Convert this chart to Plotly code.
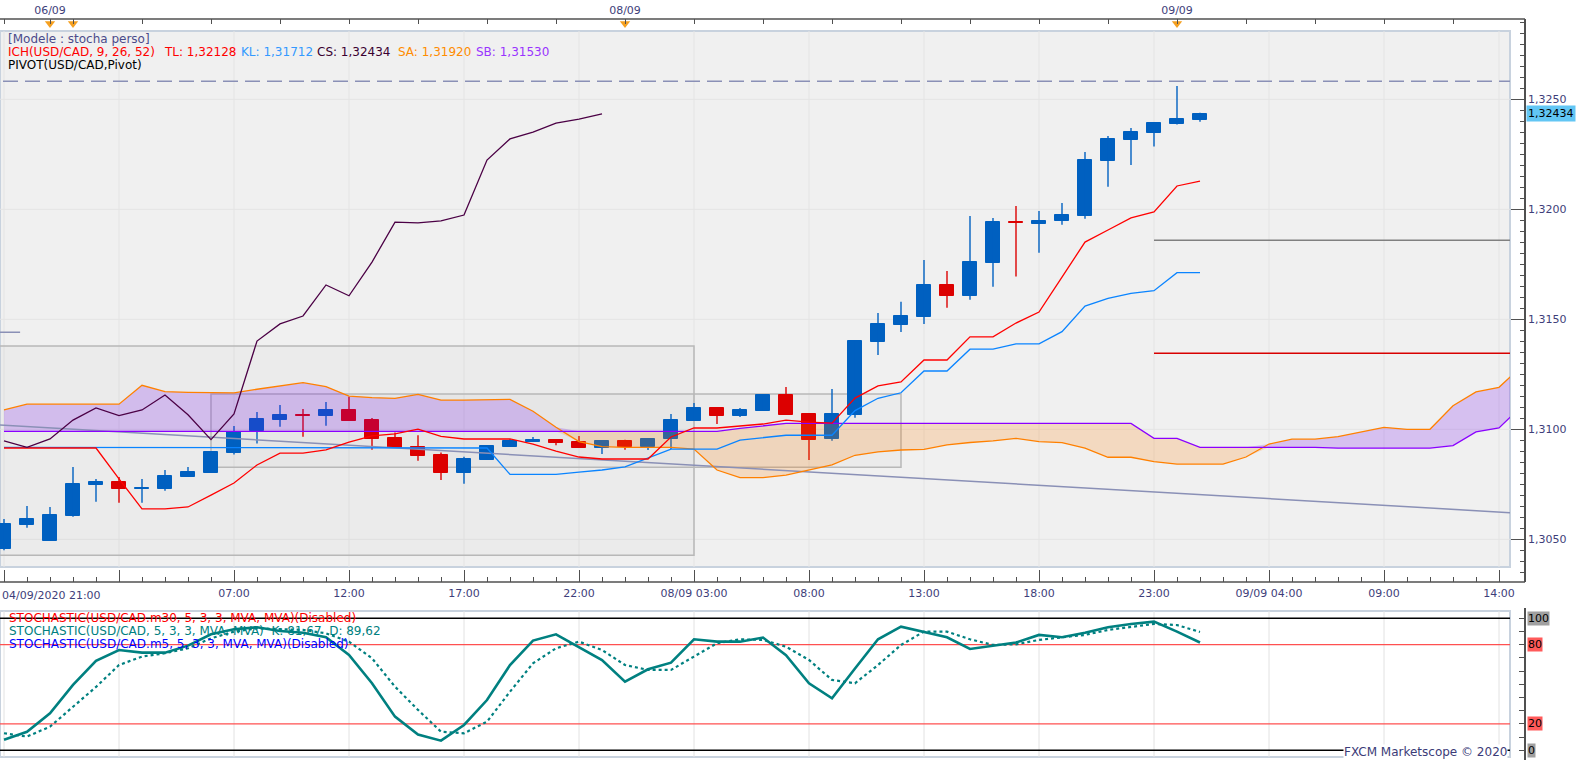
import plotly.graph_objects as go

# ---------------- data ----------------
candle_idx = list(range(53))
opens = [1.30457, 1.30566, 1.30494, 1.30606, 1.30748, 1.30760, 1.30730, 1.30730, 1.30785, 1.30803,
         1.30894, 1.30991, 1.31044, 1.31065, 1.31062, 1.31088, 1.31042, 1.30960, 1.30920, 1.30883,
         1.30803, 1.30862, 1.30921, 1.30942, 1.30951, 1.30942, 1.30916, 1.30947, 1.30918, 1.30955,
         1.31039, 1.31097, 1.31060, 1.31085, 1.31156, 1.31070, 1.30954, 1.31066, 1.31398, 1.31475,
         1.31512, 1.31656, 1.31607, 1.31757, 1.31941, 1.31935, 1.31947, 1.31971, 1.32221, 1.32316,
         1.32348, 1.32389, 1.32407]
highs = [1.30592, 1.30651, 1.30647, 1.30829, 1.30774, 1.30783, 1.30774, 1.30815, 1.30829, 1.30897,
         1.31015, 1.31079, 1.31110, 1.31092, 1.31124, 1.31148, 1.31051, 1.30985, 1.30973, 1.30895,
         1.30875, 1.30924, 1.30956, 1.30965, 1.30951, 1.30970, 1.30947, 1.30953, 1.30956, 1.31070,
         1.31120, 1.31097, 1.31097, 1.31156, 1.31192, 1.31070, 1.31183, 1.31406, 1.31529, 1.31580,
         1.31770, 1.31720, 1.31970, 1.31960, 1.32015, 1.31992, 1.32029, 1.32260, 1.32333, 1.32370,
         1.32392, 1.32560, 1.32439]
lows = [1.30450, 1.30553, 1.30494, 1.30603, 1.30671, 1.30666, 1.30666, 1.30721, 1.30785, 1.30803,
        1.30885, 1.30935, 1.31012, 1.30966, 1.31016, 1.31039, 1.30907, 1.30917, 1.30857, 1.30770,
        1.30753, 1.30862, 1.30921, 1.30942, 1.30927, 1.30916, 1.30888, 1.30907, 1.30906, 1.30910,
        1.31039, 1.31024, 1.31056, 1.31085, 1.31066, 1.30860, 1.30948, 1.31053, 1.31338, 1.31442,
        1.31479, 1.31553, 1.31589, 1.31648, 1.31694, 1.31803, 1.31930, 1.31957, 1.32103, 1.32201,
        1.32285, 1.32385, 1.32398]
closes = [1.30570, 1.30592, 1.30610, 1.30751, 1.30760, 1.30730, 1.30733, 1.30788, 1.30806, 1.30897,
          1.30989, 1.31047, 1.31065, 1.31062, 1.31088, 1.31039, 1.30957, 1.30917, 1.30880, 1.30803,
          1.30865, 1.30924, 1.30947, 1.30953, 1.30938, 1.30916, 1.30947, 1.30918, 1.30956, 1.31042,
          1.31097, 1.31062, 1.31088, 1.31156, 1.31066, 1.30953, 1.31070, 1.31401, 1.31479, 1.31515,
          1.31656, 1.31607, 1.31760, 1.31942, 1.31938, 1.31947, 1.31974, 1.32224, 1.32320, 1.32351,
          1.32392, 1.32410, 1.32434]

tenkan = [1.30915, 1.30915, 1.30915, 1.30915, 1.30915, 1.30775, 1.30638, 1.30638, 1.30647, 1.30701,
          1.30756, 1.30838, 1.30892, 1.30892, 1.30906, 1.30942, 1.30970, 1.30979, 1.31001, 1.30968,
          1.30956, 1.30956, 1.30956, 1.30933, 1.30901, 1.30874, 1.30865, 1.30865, 1.30865, 1.30965,
          1.31006, 1.31006, 1.31015, 1.31024, 1.31042, 1.31033, 1.31028, 1.31142, 1.31197, 1.31215,
          1.31315, 1.31315, 1.31420, 1.31420, 1.31483, 1.31533, 1.31692, 1.31851, 1.31906, 1.31961,
          1.31988, 1.32106, 1.32128]
kijun = [1.30918, 1.30918, 1.30918, 1.30918, 1.30918, 1.30918, 1.30915, 1.30915, 1.30915, 1.30915,
         1.30915, 1.30915, 1.30915, 1.30915, 1.30915, 1.30915, 1.30915, 1.30915, 1.30915, 1.30915,
         1.30915, 1.30915, 1.30795, 1.30795, 1.30795, 1.30805, 1.30815, 1.30829, 1.30868, 1.30910,
         1.30910, 1.30910, 1.30951, 1.30962, 1.30973, 1.30973, 1.30973, 1.31085, 1.31141, 1.31166,
         1.31265, 1.31265, 1.31364, 1.31364, 1.31388, 1.31388, 1.31444, 1.31560, 1.31595, 1.31618,
         1.31630, 1.31712, 1.31712]

cloud_idx = list(range(67))
senkou_a = [1.31088, 1.31114, 1.31114, 1.31114, 1.31114, 1.31114, 1.31200, 1.31171, 1.31168, 1.31167,
            1.31166, 1.31182, 1.31198, 1.31212, 1.31194, 1.31151, 1.31144, 1.31141, 1.31159, 1.31133,
            1.31133, 1.31136, 1.31136, 1.31082, 1.31009, 1.30944, 1.30921, 1.30918, 1.30918, 1.30918,
            1.30910, 1.30815, 1.30780, 1.30780, 1.30792, 1.30815, 1.30838, 1.30882, 1.30897, 1.30906,
            1.30909, 1.30929, 1.30940, 1.30947, 1.30959, 1.30944, 1.30939, 1.30914, 1.30873, 1.30873,
            1.30853, 1.30842, 1.30842, 1.30842, 1.30874, 1.30933, 1.30955, 1.30955, 1.30967, 1.30988,
            1.31009, 1.31000, 1.31000, 1.31107, 1.31170, 1.31191, 1.31288]
senkou_b = [1.30991] * 32 + [1.31004, 1.31015] + [1.31027] * 16 + [1.30959, 1.30959] + \
           [1.30918] * 6 + [1.30914] * 5 + [1.30926, 1.30988, 1.31006, 1.31106]

stoch_k = [8.0, 14.0, 28.0, 49.5, 67.7, 76.0, 74.0, 74.0, 79.3, 87.9,
           91.7, 93.2, 90.4, 89.1, 85.6, 72.2, 50.8, 25.5, 11.9, 7.3,
           19.2, 38.1, 64.6, 83.1, 87.9, 78.0, 68.4, 52.0, 61.4, 66.4,
           84.1, 82.3, 82.3, 85.4, 72.0, 50.8, 39.4, 62.0, 84.1, 93.7,
           89.9, 85.6, 76.8, 79.3, 81.6, 87.4, 85.6, 89.1, 93.2, 95.7,
           97.5, 89.9, 81.67]
stoch_d = [12.9, 10.4, 17.9, 33.0, 48.0, 64.6, 71.0, 73.5, 77.3, 84.8,
           89.9, 92.4, 91.9, 91.2, 88.6, 82.3, 69.7, 48.2, 30.6, 14.1,
           12.9, 21.7, 44.4, 65.9, 77.3, 82.3, 76.0, 64.6, 60.9, 60.9,
           71.0, 81.1, 84.1, 83.6, 78.5, 68.4, 53.3, 50.8, 64.6, 79.8,
           89.9, 89.9, 84.1, 79.8, 80.3, 83.6, 85.6, 87.4, 91.2, 93.2,
           95.7, 94.9, 89.62]
stoch_levels = [100, 80, 20, 0]

chikou_shift = 26
sa_current = 1.31920
sb_current = 1.31530

pivot_start = 50
pivot_level = 1.31859
s1_level = 1.31346
dashed_level = 1.32582
line_end = 66
trend_x = [-1, 66]
trend_y = [1.31025, 1.30618]
prev_seg_x = [-1, 0.7]
prev_seg_y = [1.31441, 1.31441]
boxes = [(-1, 30, 1.30427, 1.31379), (9, 39, 1.30827, 1.31160)]

xtick_vals = list(range(0, 66, 5))
xtick_text = ["", "", "07:00", "12:00", "17:00", "22:00", "08/09 03:00", "08:00", "13:00",
              "18:00", "23:00", "09/09 04:00", "09:00", "14:00"]
first_label = "04/09/2020 21:00"
date_idx = [2, 27, 51]
date_text = ["06/09", "08/09", "09/09"]
event_idx = [2, 3, 27, 51]
price_ticks = [1.3050, 1.3100, 1.3150, 1.3200, 1.3250]

# ---------------- layout helpers ----------------
W, H, R = 1583, 760, 58
PW = W - R
def pxx(px):
    return px / PW
def pxy(py):
    return 1 - py / H

XEND = pxx(1510)
XR = [-4 / 23, (1510 - 4) / 23]
MAIN_DOM = [pxy(582), pxy(19)]
STO_DOM = [0.0, pxy(608)]
main_h = 582 - 19
P_Y0, P_Y1 = (582 - 567) / main_h, (582 - 31) / main_h
S_Y0, S_Y1 = (760 - 757) / 152, (760 - 611) / 152

FONT = "DejaVu Sans"
AXC = "#505050"
LBL = "#3E3E7A"
BLUE = "#0060C0"
RED = "#DC0000"

def fmt(v, d=5):
    return f"{v:.{d}f}".replace(".", ",")

fig = go.Figure()

# wicks
for col, cond in ((BLUE, True), (RED, False)):
    wx, wy = [], []
    for i in candle_idx:
        if (closes[i] >= opens[i]) == cond:
            wx += [i, i, None]
            wy += [lows[i], highs[i], None]
    fig.add_trace(go.Scatter(x=wx, y=wy, mode="lines", line=dict(color=col, width=1.4),
                             hoverinfo="skip", showlegend=False))

# bodies
body_col = [BLUE if c >= o else RED for o, c in zip(opens, closes)]
fig.add_trace(go.Bar(x=candle_idx, y=[max(abs(c - o), 0.00002) for o, c in zip(opens, closes)],
                     base=[min(o, c) for o, c in zip(opens, closes)], width=0.6,
                     marker=dict(color=body_col, line=dict(color=body_col, width=1)),
                     hoverinfo="skip", showlegend=False))

# cloud
upper = [max(a, b) for a, b in zip(senkou_a, senkou_b)]
lower = [min(a, b) for a, b in zip(senkou_a, senkou_b)]
for edge, col in ((upper, "rgba(110,0,240,0.2)"), (lower, "rgba(255,126,0,0.2)")):
    fig.add_trace(go.Scatter(x=cloud_idx, y=senkou_b, mode="lines", line=dict(width=0),
                             hoverinfo="skip", showlegend=False))
    fig.add_trace(go.Scatter(x=cloud_idx, y=edge, mode="lines", line=dict(width=0), fill="tonexty",
                             fillcolor=col, hoverinfo="skip", showlegend=False))

def line(x, y, color, width=1.3, dash=None, xa="x", ya="y"):
    fig.add_trace(go.Scatter(x=x, y=y, mode="lines", xaxis=xa, yaxis=ya,
                             line=dict(color=color, width=width, dash=dash),
                             hoverinfo="skip", showlegend=False))

line(trend_x, trend_y, "#8A90B6", 1.5)
line(prev_seg_x, prev_seg_y, "#8A90B6", 1.5)
line([trend_x[0], line_end], [dashed_level, dashed_level], "#8A90B6", 1.5, "15px,7px")
line([pivot_start, line_end], [pivot_level, pivot_level], "#808080", 1.5)
line([pivot_start, line_end], [s1_level, s1_level], "#D80000", 1.5)
line(cloud_idx, senkou_a, "#FF8000", 1.3)
line(cloud_idx, senkou_b, "#8A00FF", 1.3)
line(candle_idx, kijun, "#0A84FF", 1.3)
line(candle_idx, tenkan, "#FF0000", 1.3)
line(candle_idx[:len(closes) - chikou_shift], closes[chikou_shift:], "#4B0045", 1.3)

# stochastic
line(candle_idx, stoch_d, "#008080", 2.2, "dot", "x3", "y2")
line(candle_idx, stoch_k, "#008080", 2.6, None, "x3", "y2")

# event markers on top axis
fig.add_trace(go.Scatter(x=event_idx, y=[0.992] * len(event_idx), xaxis="x2", yaxis="y3",
                         mode="markers", cliponaxis=False,
                         marker=dict(symbol="triangle-down", size=9, color="#F5A020"),
                         hoverinfo="skip", showlegend=False))

# ---------------- shapes ----------------
shapes = []
shapes.append(dict(type="rect", xref="x domain", yref="y domain", x0=0, x1=1, y0=P_Y0, y1=P_Y1,
                   fillcolor="#F0F0F0", line=dict(color="#C8D2DE", width=2), layer="below"))
for v in xtick_vals:
    shapes.append(dict(type="line", xref="x", yref="y domain", x0=v, x1=v, y0=P_Y0, y1=P_Y1,
                       line=dict(color="#E4E4E4", width=1), layer="below"))
for p in price_ticks:
    shapes.append(dict(type="line", xref="x domain", yref="y", x0=0, x1=1, y0=p, y1=p,
                       line=dict(color="#E4E4E4", width=1), layer="below"))
for (bx0, bx1, by0, by1) in boxes:
    shapes.append(dict(type="rect", xref="x", yref="y", x0=bx0, x1=bx1, y0=by0, y1=by1,
                       fillcolor="rgba(0,0,0,0.018)", line=dict(color="#B8B8B8", width=1.5),
                       layer="below"))
shapes.append(dict(type="rect", xref="x3 domain", yref="y2 domain", x0=0, x1=1, y0=S_Y0, y1=S_Y1,
                   fillcolor="#FFFFFF", line=dict(color="#C8D2DE", width=2), layer="below"))
for v in xtick_vals:
    shapes.append(dict(type="line", xref="x3", yref="y2 domain", x0=v, x1=v, y0=S_Y0, y1=S_Y1,
                       line=dict(color="#E2E2E2", width=1), layer="below"))
for lv in stoch_levels:
    col = "#000000" if lv in (0, 100) else "#FF5050"
    shapes.append(dict(type="line", xref="x3 domain", yref="y2", x0=0, x1=1, y0=lv, y1=lv,
                       line=dict(color=col, width=1.5 if lv in (0, 100) else 1.2), layer="below"))
# frame lines
shapes.append(dict(type="line", xref="paper", yref="paper", x0=0, x1=1, y0=MAIN_DOM[1], y1=MAIN_DOM[1],
                   line=dict(color=AXC, width=1.5)))
shapes.append(dict(type="line", xref="paper", yref="paper", x0=0, x1=1, y0=MAIN_DOM[0], y1=MAIN_DOM[0],
                   line=dict(color=AXC, width=1.5)))

# ---------------- annotations ----------------
ann = []
def txt(x_px, y_px, s, color, size=12, xanchor="left", bg=None):
    ann.append(dict(xref="paper", yref="paper", x=pxx(x_px), y=pxy(y_px), text=s, showarrow=False,
                    xanchor=xanchor, yanchor="middle", font=dict(family=FONT, size=size, color=color),
                    bgcolor=bg, borderpad=0))

txt(7, 39, "[Modele : stocha perso]", "#4B4B8B")
txt(7, 52, "ICH(USD/CAD, 9, 26, 52)", "#FF0000")
txt(163, 52, "TL: " + fmt(tenkan[-1]), "#FF0000")
txt(240, 52, "KL: " + fmt(kijun[-1]), "#3399FF")
txt(316, 52, "CS: " + fmt(closes[-1]), "#3A0030")
txt(397, 52, "SA: " + fmt(sa_current), "#FF8C00")
txt(475, 52, "SB: " + fmt(sb_current), "#9933FF")
txt(7, 65, "PIVOT(USD/CAD,Pivot)", "#000000")

txt(8, 618.3, "STOCHASTIC(USD/CAD.m30, 5, 3, 3, MVA, MVA)(Disabled)", "#FF0000")
txt(8, 631, "STOCHASTIC(USD/CAD, 5, 3, 3, MVA, MVA)  K: " + fmt(stoch_k[-1], 2) +
    "  D: " + fmt(stoch_d[-1], 2), "#008080")
txt(8, 644.3, "STOCHASTIC(USD/CAD.m5, 5, 3, 3, MVA, MVA)(Disabled)", "#0000FF")
txt(1508, 751.5, "FXCM Marketscope © 2020", "#3C3C78", 12, "right", "#FFFFFF")
txt(1, 595.5, first_label, LBL, 11)

ann.append(dict(xref="paper", yref="y", x=pxx(1526), y=closes[-1], text=fmt(closes[-1]),
                showarrow=False, xanchor="left", yanchor="middle", bgcolor="#62C6F4",
                font=dict(family=FONT, size=11, color="#000000"), borderpad=1))
for lv in stoch_levels:
    bg = "#A0A0A0" if lv in (0, 100) else "#FF5A5A"
    ann.append(dict(xref="paper", yref="y2", x=pxx(1527), y=lv, text=str(lv), showarrow=False,
                    xanchor="left", yanchor="middle", bgcolor=bg,
                    font=dict(family=FONT, size=11, color="#000000"), borderpad=0))

top_vals = sorted(set(list(range(0, 66, 3)) + date_idx))
top_text = [date_text[date_idx.index(v)] if v in date_idx else "" for v in top_vals]

fig.update_layout(
    width=W, height=H, margin=dict(l=0, r=R, t=0, b=0),
    paper_bgcolor="#FFFFFF", plot_bgcolor="rgba(0,0,0,0)",
    separators=", ", showlegend=False, bargap=0,
    shapes=shapes, annotations=ann,
    xaxis=dict(domain=[0, XEND], range=XR, anchor="y", showgrid=False, zeroline=False,
               showline=False, ticks="inside", ticklen=12, tickcolor=AXC, tickwidth=1,
               tickmode="array", tickvals=xtick_vals, ticktext=xtick_text,
               tickfont=dict(family=FONT, size=11, color=LBL), ticklabelstandoff=3,
               minor=dict(tickmode="linear", tick0=0, dtick=1, ticks="inside", ticklen=5,
                          tickcolor=AXC, showgrid=False)),
    xaxis2=dict(domain=[0, XEND], range=XR, overlaying="x", anchor="y", side="top",
                showgrid=False, zeroline=False, showline=False, ticks="inside", ticklen=5,
                tickcolor=AXC, tickmode="array", tickvals=top_vals, ticktext=top_text,
                tickfont=dict(family=FONT, size=11, color=LBL), ticklabelstandoff=2),
    xaxis3=dict(domain=[0, XEND], range=XR, anchor="y2", showgrid=False, zeroline=False,
                showline=False, showticklabels=False, ticks=""),
    yaxis=dict(domain=MAIN_DOM, range=[1.3030591, 1.32865], side="right", anchor="free",
               position=1.0, showgrid=False, zeroline=False, showline=True, linecolor=AXC,
               linewidth=1.5, ticks="inside", ticklen=13, tickcolor=AXC, tick0=1.3, dtick=0.005,
               tickformat=".4f", tickfont=dict(family=FONT, size=11, color=LBL),
               minor=dict(tick0=1.3, dtick=0.0005, ticks="inside", ticklen=4, tickcolor=AXC,
                          showgrid=False)),
    yaxis2=dict(domain=STO_DOM, range=[-7.35, 107.8], side="right", anchor="free", position=1.0,
                showgrid=False, zeroline=False, showline=True, linecolor=AXC, linewidth=1.5,
                ticks="inside", ticklen=5, tickcolor=AXC, tick0=0, dtick=10,
                showticklabels=False),
    yaxis3=dict(overlaying="y", anchor="x", range=[0, 1], visible=False),
)

fig.write_html("out.html", config={"displayModeBar": False},
               post_script="document.body.style.margin='0px';"
                           "document.body.style.overflow='hidden';"
                           "document.documentElement.style.overflow='hidden';")
